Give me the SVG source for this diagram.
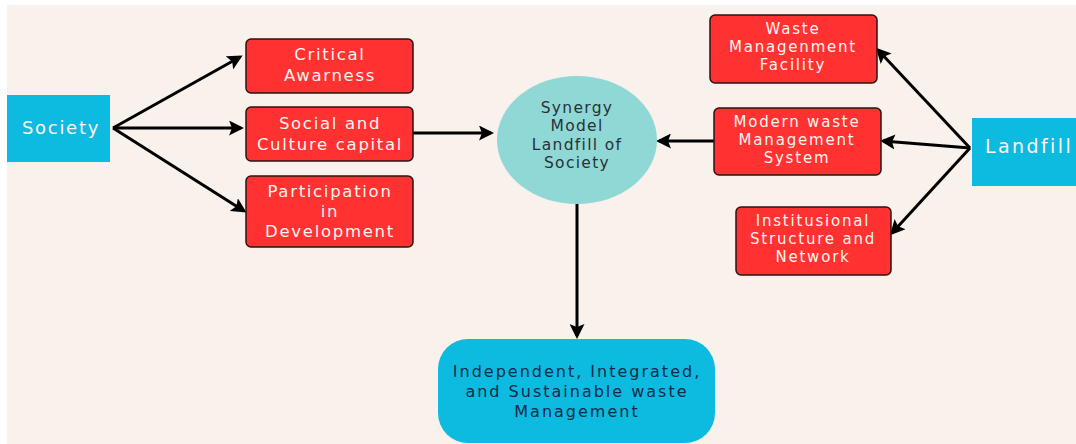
<svg xmlns="http://www.w3.org/2000/svg" width="1076" height="444" viewBox="0 0 1076 444">
<defs>
<style>
.red{fill:#ff3131;stroke:#2b1414;stroke-width:1.5}
.cyan{fill:#0cbbdf}
.wt{fill:#fff4f0;font-family:"DejaVu Sans",sans-serif;font-size:16.5px;letter-spacing:1.7px;text-anchor:middle}
.ws{font-size:15px;letter-spacing:1.8px}
.dt{fill:#2a3138;font-family:"DejaVu Sans",sans-serif;font-size:15.5px;letter-spacing:1.3px;text-anchor:middle}
.nt{fill:#0f2a48;font-family:"DejaVu Sans",sans-serif;font-size:16px;letter-spacing:2px;text-anchor:middle}
.ln{stroke:#000;stroke-width:3;fill:none;marker-end:url(#ah)}
</style>
<marker id="ah" viewBox="0 0 10 10" refX="8" refY="5" markerWidth="5" markerHeight="5" orient="auto" markerUnits="strokeWidth">
<path d="M0,0 L10,5 L0,10 L2,5 Z" fill="#000"/>
</marker>
</defs>
<rect width="1076" height="444" fill="#ffffff"/>
<rect x="7" y="5" width="1069" height="439" fill="#f9f1eb"/>

<g id="connectors">
<line class="ln" x1="113" y1="128" x2="240" y2="57"/>
<line class="ln" x1="113" y1="128" x2="241" y2="128"/>
<line class="ln" x1="113" y1="128" x2="244" y2="211"/>
<line class="ln" x1="413" y1="133" x2="491" y2="133"/>
<line class="ln" x1="714" y1="141" x2="659" y2="141"/>
<line class="ln" x1="970" y1="148" x2="878" y2="50"/>
<line class="ln" x1="970" y1="148" x2="883" y2="141"/>
<line class="ln" x1="970" y1="148" x2="892" y2="233"/>
<line class="ln" x1="577" y1="203" x2="577" y2="336"/>
</g>

<g id="society">
<rect class="cyan" x="7" y="95" width="103" height="67"/>
<text class="wt" x="61" y="134" style="font-size:18px">Society</text>
</g>

<g id="critical">
<rect class="red" x="246" y="39" width="167" height="54" rx="5"/>
<text class="wt" x="330" y="60">Critical</text>
<text class="wt" x="330" y="81">Awarness</text>
</g>

<g id="social">
<rect class="red" x="246" y="107" width="167" height="54" rx="5"/>
<text class="wt" x="330" y="129">Social and</text>
<text class="wt" x="330" y="150">Culture capital</text>
</g>

<g id="participation">
<rect class="red" x="246" y="176" width="167" height="71" rx="5"/>
<text class="wt" x="330" y="197">Participation</text>
<text class="wt" x="330" y="217">in</text>
<text class="wt" x="330" y="237">Development</text>
</g>

<g id="synergy">
<ellipse cx="577" cy="140" rx="80" ry="64" fill="#8fd8d5"/>
<text class="dt" x="577" y="113">Synergy</text>
<text class="dt" x="577" y="131">Model</text>
<text class="dt" x="577" y="150">Landfill of</text>
<text class="dt" x="577" y="168">Society</text>
</g>

<g id="waste-facility">
<rect class="red" x="710" y="15" width="167" height="68" rx="5"/>
<text class="wt ws" x="793" y="34">Waste</text>
<text class="wt ws" x="793" y="52">Managenment</text>
<text class="wt ws" x="793" y="70">Facility</text>
</g>

<g id="modern">
<rect class="red" x="714" y="108" width="167" height="67" rx="5"/>
<text class="wt ws" x="797" y="127">Modern waste</text>
<text class="wt ws" x="797" y="145">Management</text>
<text class="wt ws" x="797" y="163">System</text>
</g>

<g id="institusional">
<rect class="red" x="736" y="207" width="155" height="68" rx="5"/>
<text class="wt ws" x="813" y="226">Institusional</text>
<text class="wt ws" x="813" y="244">Structure and</text>
<text class="wt ws" x="813" y="262">Network</text>
</g>

<g id="landfill">
<rect class="cyan" x="972" y="118" width="104" height="68"/>
<text class="wt" x="985" y="153" style="text-anchor:start;font-size:19px;letter-spacing:2.4px">Landfill</text>
</g>

<g id="outcome">
<rect class="cyan" x="438" y="339" width="277" height="104" rx="30"/>
<text class="nt" x="577" y="377">Independent, Integrated,</text>
<text class="nt" x="577" y="397">and Sustainable waste</text>
<text class="nt" x="577" y="417">Management</text>
</g>
</svg>
